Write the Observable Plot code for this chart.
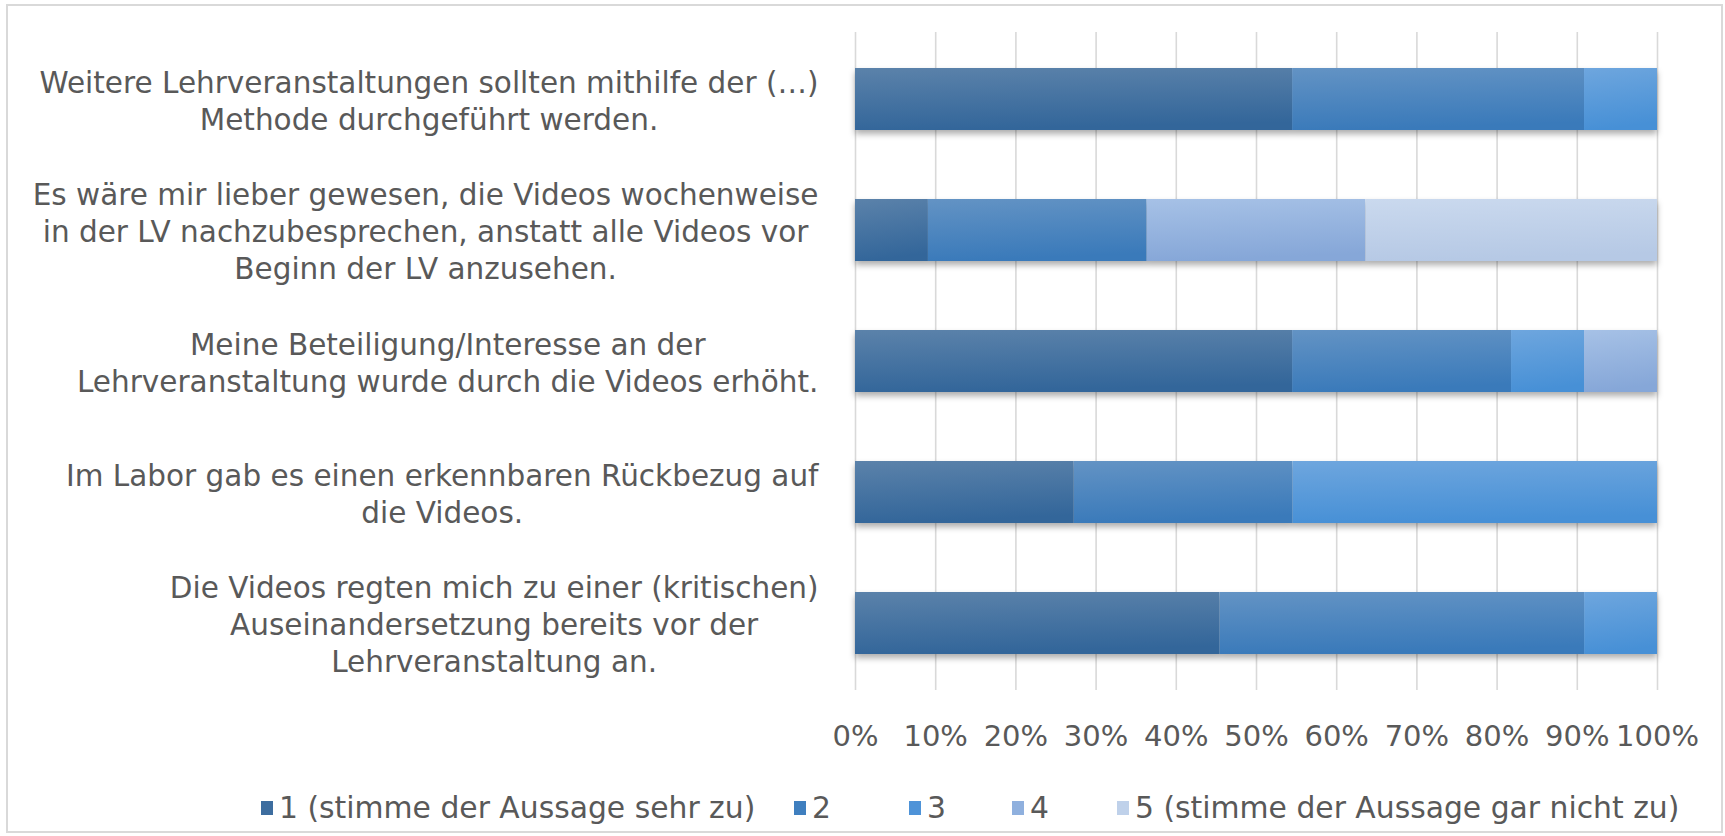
<!DOCTYPE html>
<html><head><meta charset="utf-8">
<script src="https://cdn.jsdelivr.net/npm/d3@7"></script>
<script src="https://cdn.jsdelivr.net/npm/@observablehq/plot@0.6"></script>
<style>
html,body{margin:0;padding:0;background:#fff;}
#wrap{position:relative;width:1725px;height:836px;overflow:hidden;font-family:"DejaVu Sans",sans-serif;}
#frame{position:absolute;left:6px;top:4px;width:1717px;height:829px;border:2px solid #d9d9d9;box-sizing:border-box;pointer-events:none;}
#chart{position:absolute;left:0;top:0;}
#legend{position:absolute;left:0;top:791px;width:1725px;height:34px;font-size:29.8px;color:#595959;white-space:nowrap;line-height:34px;}
.item{position:absolute;top:0;display:flex;align-items:center;}
.sw{width:12px;height:14px;margin-right:6px;}
</style></head><body>
<div id="wrap"><div id="chart"></div><div id="legend"></div><div id="frame"></div></div>
<script>
// categories (top to bottom)
const categories = [
  "Weitere Lehrveranstaltungen sollten mithilfe der (…)\nMethode durchgeführt werden.",
  "Es wäre mir lieber gewesen, die Videos wochenweise\nin der LV nachzubesprechen, anstatt alle Videos vor\nBeginn der LV anzusehen.",
  "Meine Beteiligung/Interesse an der\nLehrveranstaltung wurde durch die Videos erhöht.",
  "Im Labor gab es einen erkennbaren Rückbezug auf\ndie Videos.",
  "Die Videos regten mich zu einer (kritischen)\nAuseinandersetzung bereits vor der\nLehrveranstaltung an."
];
const levels = ["1 (stimme der Aussage sehr zu)", "2", "3", "4", "5 (stimme der Aussage gar nicht zu)"];
// percent per category, same order as categories
const level1 = [54.5, 9.1, 54.5, 27.3, 45.5];
const level2 = [36.4, 27.3, 27.3, 27.3, 45.5];
const level3 = [9.1, 0, 9.1, 45.5, 9.1];
const level4 = [0, 27.3, 9.1, 0, 0];
const level5 = [0, 36.4, 0, 0, 0];
const xTicks = [0, 0.1, 0.2, 0.3, 0.4, 0.5, 0.6, 0.7, 0.8, 0.9, 1];
const swatchColors = ["#3d6d9f", "#3f7fbf", "#4e93d8", "#8fb0de", "#bfd1ea"];
const gradStops = [["#5b82aa", "#33669a"], ["#6393c4", "#3a7aba"], ["#6ea6de", "#4790d6"], ["#a6c1e6", "#86a7d8"], ["#cad9ee", "#b6c9e5"]];
const legendLeft = [261, 794, 909, 1012, 1117];

const series = [level1, level2, level3, level4, level5];
const rows = [];
series.forEach((vals, i) => vals.forEach((v, j) => rows.push({cat: categories[j], level: levels[i], value: v})));

const FONT = '"DejaVu Sans", sans-serif';
const FS = 29.5;
const ctx = document.createElement("canvas").getContext("2d");
ctx.font = `${FS}px "DejaVu Sans"`;
const widths = categories.map(c => d3.max(c.split("\n"), l => ctx.measureText(l).width));
const GAP = 37;

const labelMarks = categories.map((c, i) => Plot.text([c], {
  y: d => d, text: d => d, frameAnchor: "left", textAnchor: "middle", lineAnchor: "middle",
  dx: -(GAP + widths[i] / 2), fontSize: FS, lineHeight: 1.25, fill: "#595959"
}));

const chart = Plot.plot({
  width: 1725, height: 770,
  marginLeft: 855, marginRight: 68, marginTop: 32, marginBottom: 80,
  style: {fontFamily: FONT, color: "#595959", background: "transparent"},
  x: {domain: [0, 1], axis: null, label: null},
  y: {domain: categories, paddingInner: 0.53, paddingOuter: 0.265, axis: null, label: null},
  color: {domain: levels, range: levels.map((d, i) => `url(#grad${i})`)},
  marks: [
    Plot.gridX({ticks: xTicks, stroke: "#d9d9d9", strokeOpacity: 1, strokeWidth: 1.6}),
    Plot.barX(rows, Plot.stackX({x: "value", y: "cat", fill: "level", offset: "normalize"})),
    Plot.axisX({ticks: xTicks, label: null, tickSize: 0, tickPadding: 35, tickFormat: d3.format(".0%"), fontSize: 29, fill: "#595959"}),
    ...labelMarks
  ]
});

const svg = d3.select(chart);
const defs = svg.insert("defs", ":first-child");
gradStops.forEach((s, i) => {
  const g = defs.append("linearGradient").attr("id", `grad${i}`).attr("x1", 0).attr("y1", 0).attr("x2", 0.15).attr("y2", 1);
  g.append("stop").attr("offset", "0%").attr("stop-color", s[0]);
  g.append("stop").attr("offset", "100%").attr("stop-color", s[1]);
});
svg.select('g[aria-label="bar"]').style("filter", "drop-shadow(0px 4px 3px rgba(0,0,0,0.32))");
document.getElementById("chart").appendChild(chart);

const legend = d3.select("#legend");
levels.forEach((l, i) => {
  const it = legend.append("div").attr("class", "item").style("left", legendLeft[i] + "px");
  it.append("div").attr("class", "sw").style("background", swatchColors[i]);
  it.append("span").text(l);
});
</script>
</body></html>
